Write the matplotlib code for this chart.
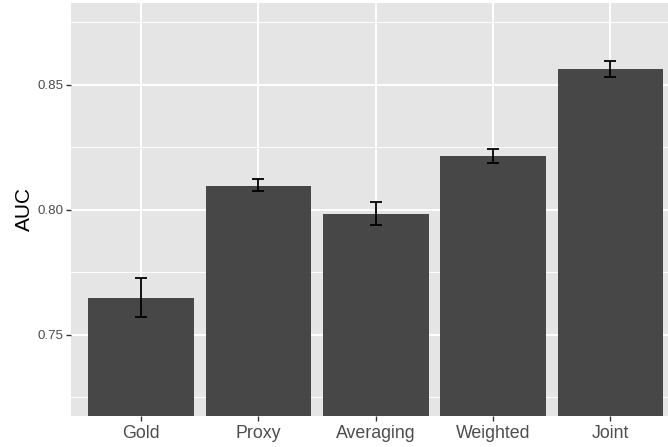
import numpy as np
import matplotlib.pyplot as plt

plt.rcParams["font.family"] = ["Liberation Sans", "DejaVu Sans"]

# Values
methods = ["Gold", "Proxy", "Averaging", "Weighted", "Joint"]
auc = [0.7647, 0.8096, 0.7982, 0.8214, 0.8564]
err_low = [0.7572, 0.8075, 0.7940, 0.8186, 0.8532]
err_high = [0.7729, 0.8123, 0.8030, 0.8244, 0.8596]

fig = plt.figure(figsize=(6.68, 4.47), dpi=100)
ax = fig.add_axes([71 / 668, 31.5 / 447, 597 / 668, 412.5 / 447])
ax.set_facecolor("#E5E5E5")

x = np.arange(1, len(methods) + 1)
lower = np.array(auc) - np.array(err_low)
upper = np.array(err_high) - np.array(auc)

ax.bar(x, auc, width=0.9, color="#474747", zorder=2)
ax.errorbar(x, auc, yerr=[lower, upper], fmt="none", ecolor="black",
            elinewidth=1.3, capsize=4.5, capthick=1.3, zorder=3)

# ggplot-like grid
for v in [0.725, 0.775, 0.825, 0.875]:
    ax.axhline(v, color="white", lw=0.7, zorder=1)
for v in [0.75, 0.80, 0.85]:
    ax.axhline(v, color="white", lw=1.4, zorder=1)
for v in x:
    ax.axvline(v, color="white", lw=1.4, zorder=1)

ax.set_xlim(0.403, 5.49)
ax.set_ylim(0.7178, 0.8827)
ax.set_yticks([0.75, 0.80, 0.85])
ax.set_yticklabels(["0.75", "0.80", "0.85"])
ax.set_xticks(x)
ax.set_xticklabels(methods)

ax.tick_params(axis="y", labelsize=9.6, labelcolor="#4D4D4D", color="#333333",
               length=3.5, width=1, pad=2)
ax.tick_params(axis="x", labelsize=12.8, labelcolor="#4D4D4D", color="#333333",
               length=3.5, width=1, pad=3.5)
ax.set_ylabel("AUC", fontsize=15, color="black", labelpad=2.5)

for s in ax.spines.values():
    s.set_visible(False)

fig.savefig("out.png", dpi=100)
